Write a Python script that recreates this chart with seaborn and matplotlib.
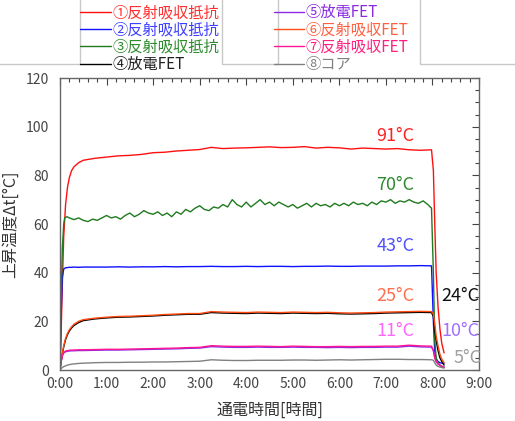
import matplotlib
matplotlib.use("Agg")
import matplotlib.pyplot as plt
from matplotlib.ticker import MultipleLocator, FuncFormatter
from matplotlib.lines import Line2D
import seaborn as sb
import pandas as pd
import numpy as np

# time axis [hours]
t = [0.0, 0.02, 0.05, 0.08, 0.12, 0.16, 0.2, 0.25, 0.3, 0.4, 0.5, 0.75,
     1.0, 1.25, 1.5, 1.75, 2.0, 2.25, 2.5, 2.75, 3.0, 3.25, 3.5, 3.75,
     4.0, 4.25, 4.5, 4.75, 5.0, 5.25, 5.5, 5.75, 6.0, 6.25, 6.5, 6.75,
     7.0, 7.25, 7.5, 7.75, 7.98, 8.02, 8.05, 8.08, 8.12, 8.16, 8.2, 8.25]

# fine time axis for the noisy green curve
t_green = [0.0, 0.02, 0.05, 0.08, 0.1, 0.15, 0.2, 0.3, 0.4, 0.5, 0.6, 0.7, 0.8, 0.9,
           1.0, 1.1, 1.2, 1.3, 1.4, 1.5, 1.6, 1.7, 1.8, 1.9, 2.0, 2.1, 2.2, 2.3, 2.4,
           2.5, 2.6, 2.7, 2.8, 2.9, 3.0, 3.1, 3.2, 3.3, 3.4, 3.5, 3.6, 3.7, 3.8, 3.9,
           4.0, 4.1, 4.2, 4.3, 4.4, 4.5, 4.6, 4.7, 4.8, 4.9, 5.0, 5.1, 5.2, 5.3, 5.4,
           5.5, 5.6, 5.7, 5.8, 5.9, 6.0, 6.1, 6.2, 6.3, 6.4, 6.5, 6.6, 6.7, 6.8, 6.9,
           7.0, 7.1, 7.2, 7.3, 7.4, 7.5, 7.6, 7.7, 7.8, 7.9, 7.98, 8.02, 8.05, 8.08,
           8.12, 8.16, 8.2, 8.25]

r1 = [0, 12, 35, 55, 68, 75, 79, 82, 83.5, 85.2, 86.2, 87,
      87.5, 88, 88.2, 88.6, 89.3, 89.5, 90, 90.3, 90.6, 91.5, 91, 91.2,
      91.3, 91.5, 91.7, 91.4, 91.5, 91.8, 91.2, 91.5, 91.3, 90.8, 91.2, 91.0,
      90.8, 91.0, 90.5, 90.3, 90.5, 82, 60, 40, 26, 17, 11, 7]
r2 = [0, 20, 38, 41.5, 42, 42.1, 42.2, 42.2, 42.3, 42.2, 42.3, 42.3,
      42.3, 42.4, 42.3, 42.4, 42.4, 42.5, 42.4, 42.5, 42.5, 42.6, 42.5, 42.5,
      42.6, 42.5, 42.6, 42.6, 42.5, 42.6, 42.6, 42.7, 42.6, 42.6, 42.7, 42.7,
      42.7, 42.8, 42.8, 42.9, 42.8, 20, 7, 4.5, 3.5, 3, 2.8, 2.8]
r3 = [0, 25, 50, 60, 62.5, 63, 62.5, 61.8, 62.5, 61.5, 61, 62, 61.5, 62.5,
      63.5, 62.5, 63, 62, 63.5, 64.5, 63, 64, 65.5, 64.5, 64, 65, 63.5, 64.5, 63,
      65, 64, 66, 65, 66.5, 67.5, 66, 65.5, 67, 66.5, 68, 67, 70, 68, 67,
      69, 67, 68.5, 70, 68, 69, 67.5, 69, 68, 67, 68, 66.5, 67.5, 68.5, 67,
      68.5, 67.5, 68, 67, 68.5, 67.5, 68.5, 67.5, 69, 68, 68.5, 67.5, 69, 68, 69.5,
      69, 70, 68.5, 69.5, 69, 70, 69, 68.5, 69.5, 68, 66.5, 40, 12, 5,
      3, 2, 1.5, 1]
r4 = [0, 3, 6.5, 9.5, 12.5, 14.5, 16, 17.3, 18.3, 19.5, 20.3, 21,
      21.4, 21.7, 21.8, 22.0, 22.2, 22.5, 22.7, 22.9, 22.9, 23.6, 23.4, 23.3,
      23.2, 23.4, 23.3, 23.2, 23.4, 23.3, 23.2, 23.3, 23.1, 23.0, 23.1, 23.2,
      23.4, 23.5, 23.6, 23.7, 23.6, 22, 16, 12, 8, 5, 3.5, 2]
r5 = [0, 3, 5.8, 7.0, 7.5, 7.7, 7.8, 7.9, 7.9, 8.0, 8.0, 8.1,
      8.2, 8.2, 8.3, 8.4, 8.5, 8.6, 8.7, 8.9, 9.0, 9.6, 9.4, 9.3,
      9.3, 9.4, 9.3, 9.3, 9.4, 9.3, 9.3, 9.2, 9.3, 9.2, 9.3, 9.3,
      9.4, 9.4, 9.8, 9.5, 9.4, 8, 5, 3.5, 2.5, 2, 1.5, 1.2]
r6 = [0, 3, 7, 10, 13, 15, 16.5, 17.8, 18.8, 20, 20.7, 21.3,
      21.7, 22.0, 22.1, 22.3, 22.5, 22.8, 23.0, 23.2, 23.2, 24.0, 23.8, 23.7,
      23.6, 23.8, 23.7, 23.6, 23.8, 23.7, 23.6, 23.7, 23.5, 23.4, 23.5, 23.6,
      23.8, 23.9, 24.0, 24.1, 24.0, 23, 19, 14, 10, 6.5, 4.5, 3]
r7 = [0, 3, 6, 7.2, 7.8, 8.0, 8.1, 8.2, 8.2, 8.3, 8.3, 8.4,
      8.5, 8.5, 8.6, 8.7, 8.8, 8.9, 9.0, 9.2, 9.3, 10.0, 9.8, 9.7,
      9.7, 9.8, 9.7, 9.6, 9.8, 9.7, 9.6, 9.6, 9.7, 9.6, 9.7, 9.7,
      9.8, 9.8, 10.2, 9.9, 9.8, 8, 5, 3.5, 2.5, 2, 1.5, 1.2]
r8 = [0, 0.5, 1.0, 1.4, 1.7, 2.0, 2.2, 2.4, 2.5, 2.7, 2.8, 3.0,
      3.1, 3.1, 3.2, 3.2, 3.3, 3.3, 3.4, 3.5, 3.6, 4.2, 4.0, 3.9,
      3.9, 4.0, 4.0, 4.0, 4.1, 4.1, 4.0, 4.1, 4.2, 4.1, 4.2, 4.3,
      4.4, 4.4, 4.3, 4.3, 4.2, 4, 3, 2, 1.5, 1.2, 1, 0.8]

names = ["①反射吸収抵抗", "②反射吸収抵抗", "③反射吸収抵抗", "④放電FET",
         "⑤放電FET", "⑥反射吸収FET", "⑦反射吸収FET", "⑧コア"]
colors = ["#ff1010", "#1010ff", "#1f7a1f", "#000000",
          "#8a2be2", "#ff4a10", "#ff1493", "#808080"]
text_colors = ["#ff3030", "#4040ff", "#2e8b2e", "#202020",
               "#8a2be2", "#ff6040", "#ff2080", "#808080"]

frames = []
for name, vals in zip(names, [r1, r2, r3, r4, r5, r6, r7, r8]):
    tt = t_green if name.startswith("③") else t
    frames.append(pd.DataFrame({"time": tt, "temp": vals, "series": name}))
df = pd.concat(frames, ignore_index=True)

# final temperature labels
end_labels = ["91°C", "70°C", "43°C", "25°C", "24°C", "11°C", "10°C", "5°C"]
end_colors = ["#ff2020", "#2e8b2e", "#5050ff", "#ff7050", "#101010", "#ff66ff", "#a070ff", "#a0a0a0"]
end_x = [7.2, 7.2, 7.2, 7.2, 8.6, 7.2, 8.6, 8.75]
end_y = [96, 76, 51, 30.5, 30.5, 16, 16, 5]

sb.set_style("white")
plt.rcParams["font.family"] = ["Noto Sans CJK JP", "DejaVu Sans"]

fig = plt.figure(figsize=(5.15, 4.21), dpi=100)
ax = fig.add_axes([60 / 515, 1 - 370 / 421, 419 / 515, 292 / 421])

sb.lineplot(data=df, x="time", y="temp", hue="series", hue_order=names,
            palette=colors, linewidth=1.0, estimator=None, sort=False, ax=ax,
            legend=False)

for lab, c, x, y in zip(end_labels, end_colors, end_x, end_y):
    ax.text(x, y, lab, color=c, fontsize=13, ha="center", va="center")

ax.set_xlim(0, 9)
ax.set_ylim(0, 120)
ax.xaxis.set_major_locator(MultipleLocator(1))
ax.xaxis.set_minor_locator(MultipleLocator(0.2))
ax.yaxis.set_major_locator(MultipleLocator(20))
ax.yaxis.set_minor_locator(MultipleLocator(5))
ax.xaxis.set_major_formatter(FuncFormatter(lambda v, p: f"{int(round(v))}:00"))
ax.tick_params(which="both", direction="in", top=True, right=True,
               colors="#444444", labelcolor="#444444", labelsize=10)
ax.tick_params(which="major", length=5, width=0.8)
ax.tick_params(which="minor", length=3, width=0.8)
ax.tick_params(axis="y", pad=8)
ax.tick_params(axis="x", pad=5)
for s in ax.spines.values():
    s.set_color("#666666")
    s.set_linewidth(1.0)

ax.set_xlabel("通電時間[時間]", fontsize=11.5, color="#333333", labelpad=8)
ax.set_ylabel("上昇温度Δt[°C]", fontsize=11.5, color="#333333", labelpad=5)

handles = [Line2D([0], [0], color=c, linewidth=1.0) for c in colors]
leg = fig.legend(handles, names, loc="upper left", ncol=2,
                 bbox_to_anchor=(80 / 515, 1 - 4 / 421), frameon=False,
                 fontsize=11, handlelength=2.0, handletextpad=0.1,
                 labelspacing=0.02, columnspacing=3.6, borderpad=0,
                 borderaxespad=0)
for txt, c in zip(leg.get_texts(), text_colors):
    txt.set_color(c)

# grey cell borders around the legend
gray = "#c8c8c8"
for xs, ys in [([0, 80, 80], [64, 64, 0]),
               ([222, 222, 278, 278], [0, 64, 64, 0]),
               ([420, 420, 515], [0, 64, 64])]:
    fig.add_artist(Line2D([x / 515 for x in xs], [1 - y / 421 for y in ys],
                          color=gray, linewidth=1.0, transform=fig.transFigure))

fig.savefig("out.png", dpi=100)
